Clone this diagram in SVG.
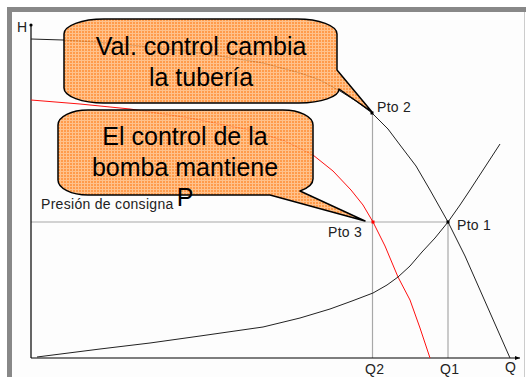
<svg xmlns="http://www.w3.org/2000/svg" width="526" height="377" viewBox="0 0 526 377">
<defs>
<pattern id="grid" width="3" height="3" patternUnits="userSpaceOnUse">
<rect width="3" height="3" fill="#ff8a2c"/>
<path d="M0 0.5H3M0.5 0V3" stroke="#ffb878" stroke-width="1"/>
</pattern>
<marker id="arr" markerWidth="6" markerHeight="6" refX="5" refY="3" orient="auto" markerUnits="userSpaceOnUse">
<path d="M0 1 L5 3 L0 5 Z" fill="#000"/>
</marker>
</defs>
<style>
.ax{stroke:#000;stroke-width:1.2;fill:none}
.gl{stroke:#a8a8a8;stroke-width:1.2;fill:none}
.cv{stroke:#222;stroke-width:1;fill:none;stroke-linejoin:round}
.rd{stroke:#ff1010;stroke-width:1;fill:none;stroke-linejoin:round}
.lb{font-family:"Liberation Sans",Arial,sans-serif;font-size:14px;fill:#222;letter-spacing:0.3px}
.big{font-family:"Liberation Sans",Arial,sans-serif;font-size:25px;fill:#000;text-anchor:middle}
.co{fill:url(#grid);fill-opacity:0.85;stroke:#000;stroke-width:1.5;stroke-linejoin:round}
</style>
<rect width="526" height="377" fill="#fff"/>
<g id="frame">
<rect x="7" y="7" width="519" height="5" fill="#888"/>
<rect x="7" y="7" width="5" height="370" fill="#888"/>
<rect x="12" y="12" width="512" height="365" fill="#fdfdfd"/>
<line x1="524.5" y1="12" x2="524.5" y2="377" stroke="#ccc"/>
</g>
<g id="connectors">
<line class="gl" x1="31" y1="222" x2="448" y2="222"/>
<line class="gl" x1="372.5" y1="113" x2="372.5" y2="358"/>
<line class="gl" x1="448" y1="222" x2="448" y2="358"/>
<line class="ax" x1="31" y1="358" x2="31" y2="26"/>
<circle cx="31" cy="25" r="1.6" fill="#000"/>
<line class="ax" x1="31" y1="358" x2="520" y2="358" marker-end="url(#arr)"/>
<polyline id="pump" class="cv" points="31,39 63,40 110,43 150,47 200,53 263,63 300,73 320,80 340,91 356,101 372,113 388,129 400,145 416,166 430,190 448,222 465,256 480,290 495,324 510,358"/>
<polyline id="pumpControl" class="rd" points="31,100 80,104 130,109 190,118 250,130 285,141 313,155 333,171 351,190 363,205 373,222 385,246 398,277 410,300 420,328 430,358"/>
<polyline id="system" class="cv" points="37,357 100,349 150,343 200,336 263,327 300,318 330,309 352,301 373,293 387,285 398,277 410,266 422,252 435,238 448,222 460,205 470,190 485,167 500,144"/>
<rect x="370.5" y="111.5" width="3" height="3" fill="#000"/>
<rect x="371.5" y="220.5" width="3" height="3" fill="#ff0000"/>
<rect x="446.5" y="220.5" width="3" height="3" fill="#000"/>
</g>
<g id="callout1">
<path class="co" d="M104 19 H297 A40 15 0 0 1 337 34 V70 L372 112 L339 89 A40 14 0 0 1 299 103 H104 A40 15 0 0 1 64 88 V34 A40 15 0 0 1 104 19 Z"/>
<text class="big" x="201" y="55">Val. control cambia</text>
<text class="big" x="201" y="86">la tubería</text>
</g>
<g id="callout2">
<path class="co" d="M88 110 H283 A30 15 0 0 1 313 125 V178 A30 15 0 0 1 300 191 L365 221 L270 195 H88 A30 15 0 0 1 58 180 V125 A30 15 0 0 1 88 110 Z"/>
<text class="big" x="185" y="145">El control de la</text>
<text class="big" x="185" y="176">bomba mantiene</text>
<text class="big" x="185" y="206">P</text>
</g>
<g id="labels">
<text class="lb" x="17" y="32">H</text>
<text class="lb" x="41" y="209">Presión de consigna</text>
<text class="lb" x="377" y="112">Pto 2</text>
<text class="lb" x="328" y="237">Pto 3</text>
<text class="lb" x="457" y="230">Pto 1</text>
<text class="lb" x="365" y="374">Q2</text>
<text class="lb" x="440" y="374">Q1</text>
<text class="lb" x="505" y="372">Q</text>
</g>
</svg>
